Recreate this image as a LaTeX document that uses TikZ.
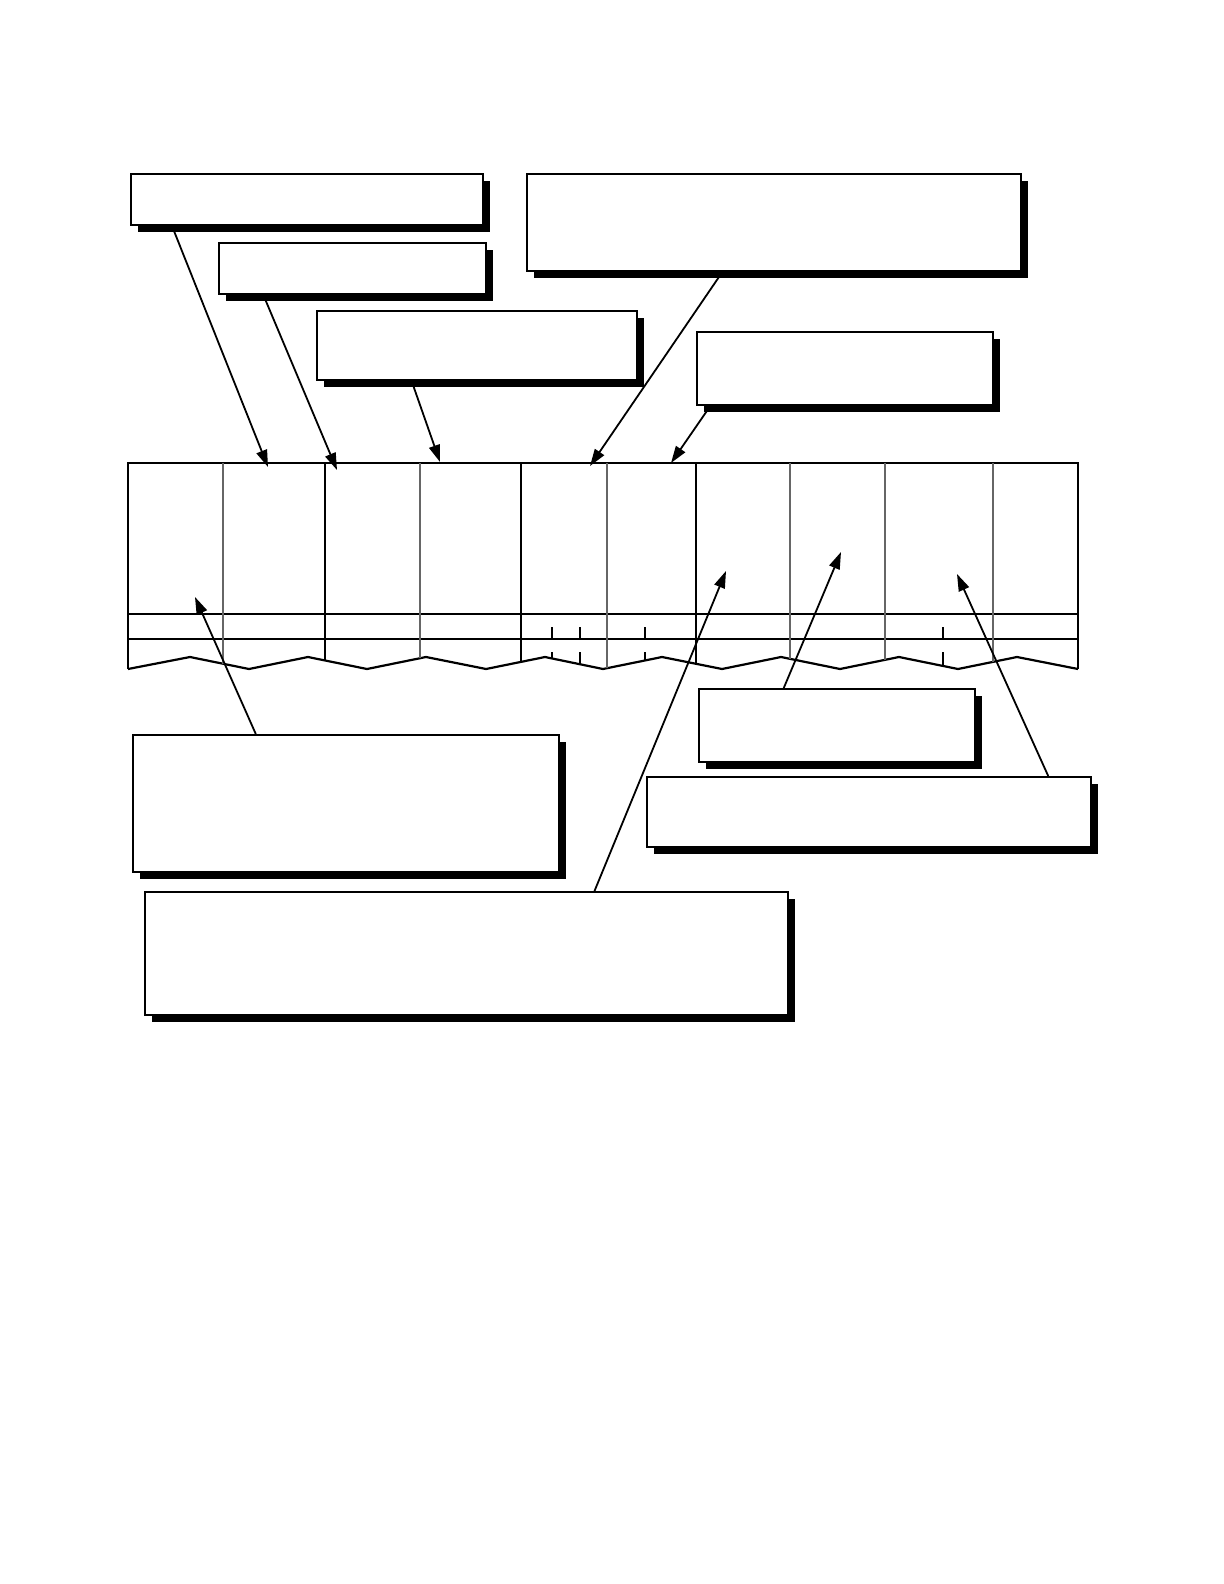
\documentclass[tikz,border=0pt]{standalone}
\usetikzlibrary{arrows.meta, shadows, calc}

\begin{document}
\begin{tikzpicture}
      [x=0.5bp, y=-0.5bp,
       callout/.style={draw, line width=1.2bp, fill=white, inner sep=0pt, anchor=north west,
         drop shadow={shadow xshift=3.5bp, shadow yshift=-3.5bp, fill=black, opacity=1}},
       pointer/.style={-{Triangle[length=8.5bp, width=5.5bp]}, line width=0.9bp},
       sheet/.style={line width=1.1bp, line join=miter},
       rule/.style={line width=0.6bp},
       faint/.style={line width=0.6bp, color=black!60}]
      \useasboundingbox (0, 0) rectangle (1224, 1584);

      % sheet with torn lower edge
      \draw[sheet] (128, 669) -- (128, 463) -- (1078, 463) -- (1078, 669);
      \draw[sheet] (128, 669) -- (190, 657) -- (249, 669) -- (308, 657) -- (367, 669)
      -- (426, 657) -- (486, 669) -- (545, 657) -- (603, 669) -- (662, 657) -- (722, 669)
      -- (781, 657) -- (840, 669) -- (899, 657) -- (958, 669) -- (1017, 657) -- (1078, 669);
      \draw[sheet] (128, 614) -- (1078, 614);
      \draw[rule] (128, 639) -- (1078, 639);

      % columns
      \draw[faint] (223, 463) -- (223, 663.7);
      \draw[rule] (325, 463) -- (325, 660.5);
      \draw[faint] (420, 463) -- (420, 658.2);
      \draw[rule] (521, 463) -- (521, 661.9);
      \draw[faint] (607, 463) -- (607, 668.2);
      \draw[rule] (696, 463) -- (696, 663.8);
      \draw[faint] (790, 463) -- (790, 658.8);
      \draw[faint] (885, 463) -- (885, 659.8);
      \draw[faint] (993, 463) -- (993, 661.9);

      % small ticks
      \draw[rule] (552, 627) -- (552, 639);
      \draw[rule] (552, 652) -- (552, 658.4);
      \draw[rule] (580, 627) -- (580, 639);
      \draw[rule] (580, 652) -- (580, 664.2);
      \draw[rule] (645, 627) -- (645, 639);
      \draw[rule] (645, 652) -- (645, 660.5);
      \draw[rule] (943, 627) -- (943, 639);
      \draw[rule] (943, 652) -- (943, 666.0);

      % callout boxes
      \node[callout, minimum width=176bp, minimum height=25.5bp] (note1) at (130, 173) {};
      \node[callout, minimum width=133.5bp, minimum height=25.5bp] (note2) at (218, 242) {};
      \node[callout, minimum width=160bp, minimum height=34.5bp] (note3) at (316, 310) {};
      \node[callout, minimum width=247bp, minimum height=48.5bp] (note4) at (526, 173) {};
      \node[callout, minimum width=148bp, minimum height=36.5bp] (note5) at (696, 331) {};
      \node[callout, minimum width=213bp, minimum height=68.5bp] (note6) at (132, 734) {};
      \node[callout, minimum width=138bp, minimum height=36.5bp] (note7) at (698, 688) {};
      \node[callout, minimum width=222bp, minimum height=35bp] (note8) at (646, 776) {};
      \node[callout, minimum width=321.5bp, minimum height=61.5bp] (note9) at (144, 891) {};

      % points on the sheet
      \coordinate (p1) at (268, 467);
      \coordinate (p2) at (337, 470);
      \coordinate (p3) at (440, 462);
      \coordinate (p4) at (590, 466);
      \coordinate (p5) at (671, 463);
      \coordinate (p6) at (195, 597);
      \coordinate (p7) at (726, 571);
      \coordinate (p8) at (841, 552);
      \coordinate (p9) at (957, 574);

      \draw[pointer] ($(note1.south west)!0.119!(note1.south east)$) -- (p1);
      \draw[pointer] ($(note2.south west)!0.169!(note2.south east)$) -- (p2);
      \draw[pointer] ($(note3.south west)!0.297!(note3.south east)$) -- (p3);
      \draw[pointer] ($(note4.south west)!0.395!(note4.south east)$) -- (p4);
      \draw[pointer] ($(note5.south west)!0.047!(note5.south east)$) -- (p5);
      \draw[pointer] ($(note6.north west)!0.289!(note6.north east)$) -- (p6);
      \draw[pointer] ($(note9.north west)!0.698!(note9.north east)$) -- (p7);
      \draw[pointer] ($(note7.north west)!0.308!(note7.north east)$) -- (p8);
      \draw[pointer] ($(note8.north west)!0.901!(note8.north east)$) -- (p9);
    \end{tikzpicture}
\end{document}
